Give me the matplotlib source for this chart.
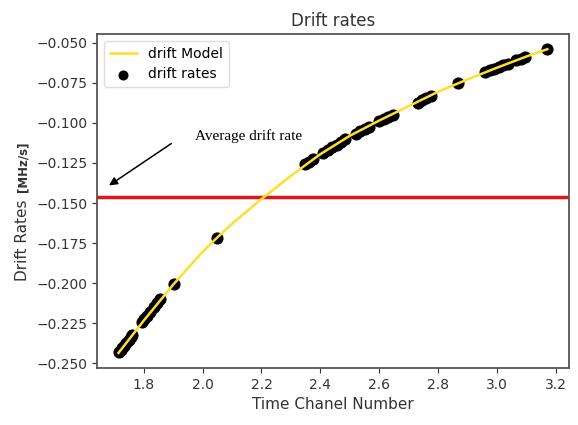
import matplotlib
matplotlib.use("Agg")
import matplotlib.pyplot as plt
import numpy as np

# measured drift rates per time channel
chan = [1.716, 1.722, 1.728, 1.735, 1.742, 1.750, 1.757, 1.762,
        1.795, 1.803, 1.812, 1.822, 1.835, 1.845, 1.855, 1.903, 2.050,
        2.349, 2.360, 2.375, 2.410, 2.425, 2.440, 2.455, 2.470, 2.485,
        2.520, 2.535, 2.550, 2.565, 2.600, 2.615, 2.630, 2.645,
        2.730, 2.745, 2.760, 2.775, 2.868,
        2.960, 2.975, 2.990, 3.005, 3.020, 3.035, 3.065, 3.080, 3.095, 3.168]
rates = [-0.2432, -0.2418, -0.2405, -0.2390, -0.2372, -0.2352, -0.2335, -0.2322,
         -0.2245, -0.2225, -0.2205, -0.2180, -0.2150, -0.2125, -0.2100, -0.2006, -0.1719,
         -0.1256, -0.1242, -0.1224, -0.1185, -0.1168, -0.1151, -0.1135, -0.1119, -0.1103,
         -0.1067, -0.1052, -0.1038, -0.1024, -0.0990, -0.0977, -0.0963, -0.0950,
         -0.0873, -0.0860, -0.0847, -0.0835, -0.0754,
         -0.0684, -0.0673, -0.0662, -0.0652, -0.0641, -0.0631, -0.0610, -0.0599, -0.0588, -0.0541]

# fitted model curve
model_x = [1.715, 1.8, 1.9, 2.0, 2.05, 2.1, 2.2, 2.3, 2.35, 2.4, 2.5, 2.6, 2.7, 2.8, 2.9, 3.0, 3.1, 3.17]
model_y = [-0.2435, -0.2235, -0.2010, -0.1805, -0.1715, -0.1630, -0.1475, -0.1330, -0.1262,
           -0.1195, -0.1080, -0.0985, -0.0895, -0.0805, -0.0728, -0.0655, -0.0585, -0.0540]

avg_rate = -0.146

fig = plt.figure(figsize=(5.78, 4.25), dpi=100)
ax = fig.add_axes([0.168, 0.134, 0.816, 0.786])

ax.plot(model_x, model_y, color='#ffdf2e', linewidth=1.8, label='drift Model', zorder=3)
ax.scatter(chan, rates, s=60, color='black', label='drift rates', zorder=2)
ax.axhline(avg_rate, color='#e0141c', linewidth=2.5, zorder=1)

ax.annotate('', xy=(1.675, -0.140), xytext=(1.902, -0.1119),
            arrowprops=dict(arrowstyle='-|>', color='black', lw=1.1, mutation_scale=12))
ax.text(1.973, -0.1081, 'Average drift rate', fontsize=11,
        family='Liberation Serif', va='center', ha='left', color='black')

ax.set_title('Drift rates', fontsize=12, color='#333333')
ax.set_xlabel('Time Chanel Number', fontsize=11, color='#333333')
ax.text(-0.159, 0.383, 'Drift Rates', transform=ax.transAxes, rotation=90,
        fontsize=11, ha='center', va='center', color='#333333')
ax.text(-0.157, 0.602, '[MHz/s]', transform=ax.transAxes, rotation=90,
        fontsize=8.5, fontweight='bold', ha='center', va='center', color='#333333')

ax.set_xticks([1.8, 2.0, 2.2, 2.4, 2.6, 2.8, 3.0, 3.2])
ax.tick_params(labelsize=10, colors='#333333')
for sp in ax.spines.values():
    sp.set_color('#555555')
    sp.set_linewidth(1.3)

leg = ax.legend(loc='upper left', fontsize=10, framealpha=1, edgecolor='#dddddd',
                markerscale=0.8)

fig.savefig('out.png', dpi=100)
